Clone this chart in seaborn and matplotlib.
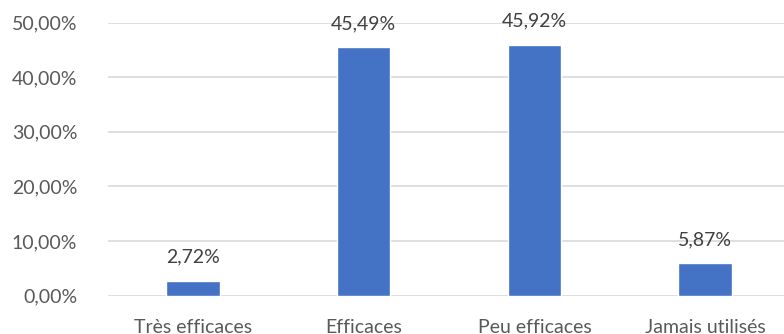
import matplotlib
matplotlib.use("Agg")
import matplotlib.pyplot as plt
import seaborn as sns
import pandas as pd
from matplotlib.ticker import FuncFormatter

categories = ["Très efficaces", "Efficaces", "Peu efficaces", "Jamais utilisés"]
values = [2.72, 45.49, 45.92, 5.87]
yticks = [0, 10, 20, 30, 40, 50]

df = pd.DataFrame({"cat": categories, "val": values})

sns.set_style("white")
plt.rcParams["font.family"] = ["Lato", "DejaVu Sans"]

fig = plt.figure(figsize=(7.84, 3.34), dpi=100)
ax = fig.add_axes([107.7 / 784, 1 - 295.5 / 334, 682.7 / 784, (295.5 - 22.7) / 334])

sns.barplot(data=df, x="cat", y="val", color="#4472C4", width=0.313,
            saturation=1, ax=ax, zorder=3)

ax.set_xlim(-0.5, 3.5)
ax.set_ylim(0, 50)
ax.set_yticks(yticks)
ax.yaxis.set_major_formatter(FuncFormatter(lambda v, p: f"{v:.2f}%".replace(".", ",")))
ax.grid(axis="y", color="#d9d9d9", linewidth=1.2, zorder=0)
ax.set_axisbelow(True)
for s in ax.spines.values():
    s.set_visible(False)
ax.tick_params(axis="y", length=0, pad=22, labelsize=14, labelcolor="#595959")
ax.tick_params(axis="x", length=0, pad=17, labelsize=14, labelcolor="#595959")
ax.set_xlabel("")
ax.set_ylabel("")

for i, v in enumerate(values):
    ax.annotate(f"{v:.2f}%".replace(".", ","), (i, v), xytext=(0, 11),
                textcoords="offset points", ha="center", va="bottom",
                fontsize=14, color="#404040")

fig.savefig("out.png", dpi=100)
